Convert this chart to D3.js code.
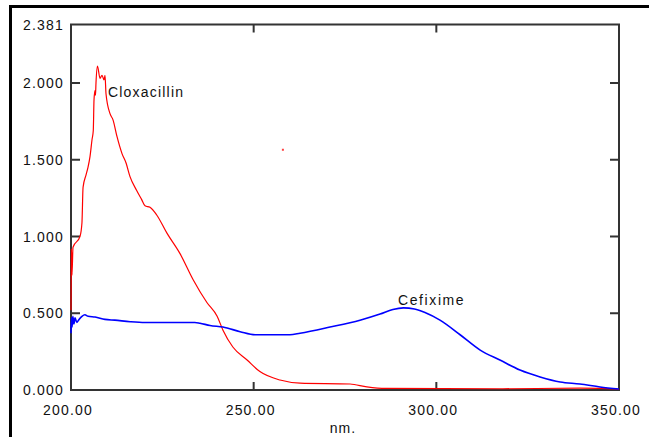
<!DOCTYPE html>
<html>
<head>
<meta charset="utf-8">
<script src="https://cdn.jsdelivr.net/npm/d3@7"></script>
<style>
body { margin: 0; background: #fff; }
text { font-family: "Liberation Sans", Arial, sans-serif; font-size: 14px; fill: #111; }
</style>
</head>
<body>
<script>
// wavelength (nm) / absorbance values
var cloxNm = [200, 200.05, 200.1, 200.16, 200.2, 200.27, 200.55, 202.46, 203.0, 203.3, 204.1, 204.65, 205.2, 205.75,
  206.1, 206.3, 206.57, 206.7, 206.84, 207.25, 207.94, 208.49, 209.03, 209.31, 209.58, 210.68, 211.5, 212.6,
  213.96, 215.05, 216.15, 217.98, 219.35, 220.26, 221.62, 223.46, 226.3, 229.8, 233.4, 237.2, 240.0, 241.6,
  244.3, 248.2, 251.7, 257.2, 262.7, 276.4, 281.0, 286.2, 317.4, 339.3, 344.8, 350];
var cloxAbs = [0.52, 0.72, 0.92, 0.74, 0.9, 0.75, 0.93, 1.0, 1.09, 1.32, 1.4, 1.45, 1.52, 1.63,
  1.69, 1.89, 1.95, 1.92, 2.0, 2.11, 2.03, 2.05, 2.02, 2.05, 1.93, 1.80, 1.76, 1.65,
  1.54, 1.48, 1.39, 1.30, 1.24, 1.20, 1.19, 1.14, 1.02, 0.89, 0.72, 0.57, 0.48, 0.39,
  0.28, 0.195, 0.12, 0.065, 0.045, 0.039, 0.02, 0.01, 0.008, 0.012, 0.01, 0.005];

var cefNm = [200, 200.1, 200.3, 200.5, 200.8, 201.1, 201.6, 202.2, 203.0, 203.8, 204.7, 206.6, 209.3, 212.0, 216.2,
  220.26, 233.9, 235.3, 238.05, 241.6, 246.3, 250.4, 259.9, 262.7, 270.9, 279.1, 284.6, 288.1, 291.0, 294.0, 296.9,
  301.0, 306.5, 312.0, 317.4, 322.9, 328.4, 333.9, 339.3, 344.8, 350];
var cefAbs = [0.37, 0.47, 0.41, 0.48, 0.43, 0.47, 0.44, 0.46, 0.48, 0.49, 0.48, 0.475, 0.46, 0.455, 0.445,
  0.44, 0.44, 0.435, 0.42, 0.41, 0.38, 0.36, 0.36, 0.37, 0.41, 0.455, 0.495, 0.525, 0.535, 0.528, 0.505,
  0.455, 0.36, 0.26, 0.195, 0.13, 0.085, 0.052, 0.039, 0.02, 0.006];

var yTicks = [0, 0.5, 1.0, 1.5, 2.0, 2.381];
var xTicks = [200, 250, 300, 350];
var strayPoint = [258, 1.565];

var width = 649, height = 437;
var plotLeft = 71, plotRight = 619, plotTop = 24.5, plotBottom = 390;

var svg = d3.select("body").append("svg")
  .attr("width", width)
  .attr("height", height);

// outer frame (cut off at right and bottom)
svg.append("path")
  .attr("d", "M10.5," + height + "V6.5H" + width)
  .attr("fill", "none")
  .attr("stroke", "#000")
  .attr("stroke-width", 3);

var x = d3.scaleLinear().domain([200, 350]).range([plotLeft, plotRight]);
var y = d3.scaleLinear().domain([0, 2.381]).range([plotBottom, plotTop]);

// plot box
svg.append("rect")
  .attr("x", plotLeft).attr("y", plotTop)
  .attr("width", plotRight - plotLeft).attr("height", plotBottom - plotTop)
  .attr("fill", "none")
  .attr("stroke", "#333")
  .attr("stroke-width", 2);

// inward ticks on all four sides
var tickY = yTicks.filter(function (d) { return d > 0 && d < 2.381; });
var tickX = xTicks.filter(function (d) { return d > 200 && d < 350; });
var ticks = svg.append("g").attr("stroke", "#333").attr("stroke-width", 2);
tickY.forEach(function (d) {
  ticks.append("line").attr("x1", x(200)).attr("x2", x(200) + 9).attr("y1", y(d)).attr("y2", y(d));
  ticks.append("line").attr("x1", x(350)).attr("x2", x(350) - 9).attr("y1", y(d)).attr("y2", y(d));
});
tickX.forEach(function (d) {
  ticks.append("line").attr("x1", x(d)).attr("x2", x(d)).attr("y1", y(0)).attr("y2", y(0) - 8);
  ticks.append("line").attr("x1", x(d)).attr("x2", x(d)).attr("y1", y(2.381)).attr("y2", y(2.381) + 8);
});

// tick labels
svg.append("g").selectAll("text")
  .data(yTicks)
  .enter().append("text")
  .attr("x", 64)
  .attr("y", function (d) { return y(d); })
  .attr("dy", "0.36em")
  .attr("text-anchor", "end")
  .style("letter-spacing", "1.2px")
  .text(function (d) { return d.toFixed(3); });

svg.append("g").selectAll("text")
  .data(xTicks)
  .enter().append("text")
  .attr("x", function (d) { return x(d) - 3; })
  .attr("y", 415)
  .attr("text-anchor", "middle")
  .style("letter-spacing", "1.2px")
  .text(function (d) { return d.toFixed(2); });

svg.append("text")
  .attr("x", 343).attr("y", 433)
  .attr("text-anchor", "middle")
  .style("letter-spacing", "1px")
  .text("nm.");

var line = d3.line()
  .curve(d3.curveMonotoneX)
  .x(function (d) { return x(d[0]); })
  .y(function (d) { return y(d[1]); });

svg.append("path")
  .datum(d3.zip(cloxNm, cloxAbs))
  .attr("d", line)
  .attr("fill", "none")
  .attr("stroke", "#ff0000")
  .attr("stroke-width", 1.2);

svg.append("path")
  .datum(d3.zip(cefNm, cefAbs))
  .attr("d", line)
  .attr("fill", "none")
  .attr("stroke", "#0000ff")
  .attr("stroke-width", 1.6);

svg.append("rect")
  .attr("x", x(strayPoint[0]) - 1).attr("y", y(strayPoint[1]) - 1)
  .attr("width", 2).attr("height", 2)
  .attr("fill", "#ff4040");

svg.append("text")
  .attr("x", 108).attr("y", 97)
  .style("letter-spacing", "1.2px")
  .text("Cloxacillin");

svg.append("text")
  .attr("x", 398).attr("y", 305)
  .style("letter-spacing", "1.6px")
  .text("Cefixime");
</script>
</body>
</html>
